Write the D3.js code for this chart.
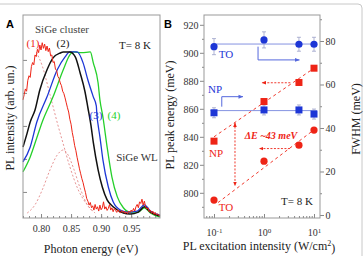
<!DOCTYPE html>
<html>
<head>
<meta charset="utf-8">
<script src="https://cdn.jsdelivr.net/npm/d3@7"></script>
<style>
  body { margin: 0; background: #fff; }
  text { font-family: "Liberation Serif", "Times New Roman", serif; }
</style>
</head>
<body>
<div id="chart"></div>
<script>
// Panel A spectra: [photon energy (eV), PL intensity (arb. un.)]
const spec1 = [
  [0.770, 3.79], [0.772, 3.95], [0.774, 4.12], [0.776, 4.05], [0.778, 4.38], [0.780, 4.52],
  [0.782, 4.47], [0.784, 4.80], [0.786, 4.92], [0.788, 4.85], [0.790, 5.15], [0.792, 5.10],
  [0.794, 5.32], [0.796, 5.22], [0.798, 5.45], [0.800, 5.30], [0.802, 5.52], [0.804, 5.35],
  [0.806, 5.48], [0.808, 5.28], [0.810, 5.42], [0.812, 5.25], [0.814, 5.36], [0.816, 5.12],
  [0.818, 5.15], [0.820, 4.92], [0.822, 4.95], [0.824, 4.72], [0.826, 4.68], [0.828, 4.50],
  [0.830, 4.44], [0.832, 4.30], [0.834, 4.22], [0.836, 4.05], [0.838, 3.98], [0.840, 3.85],
  [0.842, 3.70], [0.844, 3.55], [0.846, 3.42], [0.848, 3.20], [0.850, 3.05], [0.852, 2.80],
  [0.854, 2.62], [0.856, 2.40], [0.858, 2.25], [0.860, 2.05], [0.862, 1.88], [0.864, 1.70],
  [0.866, 1.55], [0.868, 1.40], [0.870, 1.28], [0.872, 1.12], [0.874, 0.98], [0.876, 0.80],
  [0.878, 0.72], [0.880, 0.60], [0.882, 0.68], [0.884, 0.52], [0.886, 0.58], [0.888, 0.45],
  [0.890, 0.62], [0.892, 0.48], [0.894, 0.55], [0.896, 0.42], [0.898, 0.60], [0.900, 0.46],
  [0.902, 0.52], [0.904, 0.70], [0.906, 0.48], [0.908, 0.55], [0.910, 0.44], [0.912, 0.50],
  [0.914, 0.62], [0.916, 0.45], [0.918, 0.52], [0.920, 0.40], [0.922, 0.50], [0.924, 0.44],
  [0.926, 0.38], [0.928, 0.46], [0.930, 0.40], [0.932, 0.36], [0.934, 0.44], [0.936, 0.38],
  [0.938, 0.42], [0.940, 0.35], [0.942, 0.40], [0.944, 0.34], [0.946, 0.42], [0.948, 0.38],
  [0.950, 0.45], [0.952, 0.40], [0.954, 0.50], [0.956, 0.42], [0.958, 0.55], [0.960, 0.62],
  [0.962, 0.52], [0.964, 0.70], [0.966, 0.65], [0.968, 0.78], [0.970, 0.60], [0.972, 0.72],
  [0.974, 0.55], [0.976, 0.48], [0.978, 0.52], [0.980, 0.40], [0.982, 0.45], [0.984, 0.35],
  [0.986, 0.42], [0.988, 0.32], [0.990, 0.38], [0.992, 0.30], [0.994, 0.34], [0.996, 0.28],
  [0.998, 0.30]
];
const spec2 = [
  [0.770, 2.36], [0.777, 2.79], [0.782, 3.12], [0.790, 3.48], [0.798, 4.09], [0.810, 4.70],
  [0.820, 5.06], [0.832, 5.21], [0.837, 5.24], [0.848, 5.24], [0.857, 5.09], [0.865, 4.61],
  [0.873, 4.05], [0.878, 3.55], [0.883, 3.03], [0.887, 2.50], [0.895, 1.67], [0.902, 1.15],
  [0.910, 0.76], [0.920, 0.55], [0.937, 0.36], [0.948, 0.33], [0.962, 0.39], [0.972, 0.55],
  [0.982, 0.39], [0.998, 0.27]
];
const spec3 = [
  [0.770, 1.91], [0.782, 2.36], [0.793, 3.12], [0.810, 3.88], [0.827, 4.70], [0.840, 5.09],
  [0.848, 5.24], [0.860, 5.24], [0.870, 4.91], [0.878, 4.39], [0.887, 3.88], [0.892, 3.61],
  [0.893, 3.33], [0.895, 3.03], [0.898, 2.67], [0.903, 1.97], [0.912, 1.15], [0.920, 0.70],
  [0.932, 0.45], [0.945, 0.39], [0.960, 0.42], [0.972, 0.61], [0.982, 0.42], [0.998, 0.30]
];
const spec4 = [
  [0.770, 1.61], [0.782, 2.06], [0.793, 2.64], [0.802, 3.12], [0.820, 3.88], [0.837, 4.70],
  [0.848, 5.15], [0.853, 5.24], [0.868, 5.22], [0.882, 5.24], [0.887, 4.91], [0.895, 4.30],
  [0.898, 3.79], [0.903, 3.27], [0.910, 2.36], [0.918, 1.45], [0.927, 0.85], [0.937, 0.52],
  [0.948, 0.39], [0.962, 0.39], [0.972, 0.52], [0.982, 0.36], [0.998, 0.24]
];
// Gaussian components (dotted)
const fit1 = [
  [0.792, 5.24], [0.802, 4.82], [0.815, 3.94], [0.828, 3.03], [0.835, 2.58], [0.848, 1.76],
  [0.862, 1.06], [0.877, 0.61], [0.890, 0.36]
];
const fit2 = [
  [0.777, 0.36], [0.790, 0.61], [0.802, 1.06], [0.815, 1.67], [0.827, 2.12], [0.837, 2.27],
  [0.845, 2.12], [0.855, 1.67], [0.865, 1.12], [0.877, 0.61], [0.887, 0.39]
];
const energyTicks = [0.80, 0.85, 0.90, 0.95];
const energyMinor = d3.range(0.77, 1.0, 0.01);
const intensityTicks = [1, 2, 3, 4, 5];

// Panel B: excitation intensity (W/cm2)
const power = [0.1, 1, 5, 10];
const npPeak = [836.9, 865.2, 878.8, 889.0];
const toPeak = [794.8, 822.6, 834.0, 844.8];
const npFwhm = [47.0, 48.3, 48.3, 46.4];
const toFwhm = [77.4, 80.5, 78.5, 78.5];
const npFwhmErr = [2.3, 2.3, 2.3, 2.3];
const toFwhmErr = [3.7, 3.7, 3.2, 3.2];
const npFwhmMean = 48.0;
const toFwhmMean = 78.6;
const npFit = [[0.1, 840], [10, 889]];
const toFit = [[0.12, 793], [10, 845]];
const peakTicks = [800, 820, 840, 860, 880, 900, 920];
const peakMinor = [790, 810, 830, 850, 870, 890, 910];
const fwhmTicks = [0, 20, 40, 60, 80];
const fwhmMinor = [10, 30, 50, 70, 90];
const powerTicks = [0.1, 1, 10];
const powerMinor = [0.07, 0.08, 0.09, 0.2, 0.3, 0.4, 0.5, 0.6, 0.7, 0.8, 0.9, 2, 3, 4, 5, 6, 7, 8, 9];

const red = "#ee2416", blue = "#1d36d6", green = "#25d02a";

const svg = d3.select("#chart").append("svg").attr("width", 364).attr("height", 256);

// figure border
svg.append("rect").attr("x", -6).attr("y", 4).attr("width", 368).attr("height", 260)
  .attr("rx", 4).attr("fill", "none").attr("stroke", "#c8c8c8");

const defs = svg.append("defs");
function marker(id, color) {
  defs.append("marker").attr("id", id).attr("viewBox", "0 0 10 10").attr("refX", 9).attr("refY", 5)
    .attr("markerWidth", 5).attr("markerHeight", 5).attr("orient", "auto-start-reverse")
    .append("path").attr("d", "M0,1L10,5L0,9z").attr("fill", color);
}
marker("arRed", red);
marker("arBlue", "#5568dd");

// ---------- Panel A ----------
const xA = d3.scaleLinear().domain([0.77, 0.998]).range([23, 160]);
const yA = d3.scaleLinear().domain([0.21, 6.36]).range([218, 15]);
const gA = svg.append("g");

gA.append("g").attr("transform", "translate(0,218)")
  .call(d3.axisBottom(xA).tickValues(energyMinor).tickSize(-2).tickFormat(""));
gA.append("g").attr("transform", "translate(0,218)")
  .call(d3.axisBottom(xA).tickValues(energyTicks).tickSize(-4).tickPadding(7).tickFormat(d3.format(".2f")));
gA.append("g").attr("transform", "translate(23,0)")
  .call(d3.axisLeft(yA).tickValues(intensityTicks).tickSize(-4).tickFormat(""));

const lineA = d3.line().x(d => xA(d[0])).y(d => yA(d[1]));
const lineAs = d3.line().x(d => xA(d[0])).y(d => yA(d[1])).curve(d3.curveMonotoneX);

gA.append("path").datum(fit1).attr("d", lineAs).attr("fill", "none")
  .attr("stroke", "#e07a7a").attr("stroke-width", 0.8).attr("stroke-dasharray", "2,2");
gA.append("path").datum(fit2).attr("d", lineAs).attr("fill", "none")
  .attr("stroke", "#e07a7a").attr("stroke-width", 0.8).attr("stroke-dasharray", "2,2");
gA.append("path").datum(spec4).attr("d", lineAs).attr("fill", "none").attr("stroke", green).attr("stroke-width", 1.3);
gA.append("path").datum(spec3).attr("d", lineAs).attr("fill", "none").attr("stroke", blue).attr("stroke-width", 1.3);
gA.append("path").datum(spec2).attr("d", lineAs).attr("fill", "none").attr("stroke", "#111").attr("stroke-width", 1.5);
gA.append("path").datum(spec1).attr("d", lineA).attr("fill", "none").attr("stroke", red).attr("stroke-width", 1);

gA.append("rect").attr("x", 23).attr("y", 15).attr("width", 137).attr("height", 203)
  .attr("fill", "none").attr("stroke", "#999");

gA.append("text").attr("x", 62).attr("y", 33).attr("text-anchor", "middle").attr("font-size", 11).attr("fill", "#444").text("SiGe cluster");
gA.append("text").attr("x", 135).attr("y", 49).attr("text-anchor", "middle").attr("font-size", 11).attr("fill", "#222").text("T= 8 K");
gA.append("text").attr("x", 137).attr("y", 161).attr("text-anchor", "middle").attr("font-size", 11).attr("fill", "#333").text("SiGe WL");
gA.append("text").attr("x", 33).attr("y", 47).attr("text-anchor", "middle").attr("font-size", 11).attr("fill", red).text("(1)");
gA.append("text").attr("x", 63).attr("y", 47).attr("text-anchor", "middle").attr("font-size", 11).attr("fill", "#111").text("(2)");
gA.append("text").attr("x", 96).attr("y", 119).attr("text-anchor", "middle").attr("font-size", 11).attr("fill", blue).text("(3)");
gA.append("text").attr("x", 114).attr("y", 119).attr("text-anchor", "middle").attr("font-size", 11).attr("fill", green).text("(4)");

gA.append("text").attr("x", 91).attr("y", 253).attr("text-anchor", "middle").attr("font-size", 12).attr("fill", "#222").text("Photon energy (eV)");
gA.append("text").attr("transform", "translate(14,118) rotate(-90)").attr("text-anchor", "middle")
  .attr("font-size", 12).attr("fill", "#222").text("PL intensity (arb. un.)");
svg.append("text").attr("x", 10).attr("y", 28).attr("text-anchor", "middle").attr("font-size", 11)
  .attr("font-weight", "bold").style("font-family", "Liberation Sans, Arial, sans-serif").text("A");

// ---------- Panel B ----------
const xB = d3.scaleLog().domain([Math.pow(10, -1.2), Math.pow(10, 1.12)]).range([204, 320]);
const yB = d3.scaleLinear().domain([782, 927]).range([218, 15]);
const yF = d3.scaleLinear().domain([-1.38, 91.95]).range([218, 15]);
const gB = svg.append("g");

gB.append("g").attr("transform", "translate(0,218)")
  .call(d3.axisBottom(xB).tickValues(powerMinor).tickSize(-2).tickFormat(""));
const axX = gB.append("g").attr("transform", "translate(0,218)")
  .call(d3.axisBottom(xB).tickValues(powerTicks).tickSize(-4).tickPadding(11).tickFormat(""));
axX.selectAll(".tick text").each(function (d) {
  const t = d3.select(this);
  t.append("tspan").text("10");
  t.append("tspan").attr("dy", "-0.5em").attr("font-size", 7).text(Math.round(Math.log10(d)));
});
gB.append("g").attr("transform", "translate(204,0)")
  .call(d3.axisLeft(yB).tickValues(peakMinor).tickSize(2).tickFormat(""));
gB.append("g").attr("transform", "translate(204,0)")
  .call(d3.axisLeft(yB).tickValues(peakTicks).tickSize(4).tickPadding(1.5));
gB.append("g").attr("transform", "translate(320,0)")
  .call(d3.axisRight(yF).tickValues(fwhmMinor).tickSize(2).tickFormat(""));
gB.append("g").attr("transform", "translate(320,0)")
  .call(d3.axisRight(yF).tickValues(fwhmTicks).tickSize(4).tickPadding(1.5));

svg.selectAll(".domain").remove();
svg.selectAll(".tick line").attr("stroke", "#888");
svg.selectAll(".tick text").attr("font-size", 10).attr("fill", "#333")
  .style("font-family", "Liberation Serif, serif");

gB.append("rect").attr("x", 204).attr("y", 15).attr("width", 116).attr("height", 203)
  .attr("fill", "none").attr("stroke", "#999");

// blue FWHM mean lines
gB.append("line").attr("x1", xB(0.1)).attr("x2", xB(10.5)).attr("y1", yF(toFwhmMean)).attr("y2", yF(toFwhmMean))
  .attr("stroke", "#8593e2").attr("stroke-width", 1);
gB.append("line").attr("x1", xB(0.085)).attr("x2", xB(11.5)).attr("y1", yF(npFwhmMean)).attr("y2", yF(npFwhmMean))
  .attr("stroke", "#8593e2").attr("stroke-width", 1);

// red fit lines
const lineB = d3.line().x(d => xB(d[0])).y(d => yB(d[1]));
gB.append("path").datum(npFit).attr("d", lineB).attr("stroke", red).attr("stroke-width", 0.9).attr("stroke-dasharray", "3,3").attr("fill", "none");
gB.append("path").datum(toFit).attr("d", lineB).attr("stroke", red).attr("stroke-width", 0.9).attr("stroke-dasharray", "3,3").attr("fill", "none");

// error bars
function errBars(vals, errs) {
  const g = gB.append("g").attr("stroke", "#9aa0c8").attr("stroke-width", 0.8);
  power.forEach((p, i) => {
    const x = xB(p), y0 = yF(vals[i] - errs[i]), y1 = yF(vals[i] + errs[i]);
    g.append("line").attr("x1", x).attr("x2", x).attr("y1", y0).attr("y2", y1);
    g.append("line").attr("x1", x - 2).attr("x2", x + 2).attr("y1", y0).attr("y2", y0);
    g.append("line").attr("x1", x - 2).attr("x2", x + 2).attr("y1", y1).attr("y2", y1);
  });
}
errBars(toFwhm, toFwhmErr);
errBars(npFwhm, npFwhmErr);

// markers
gB.selectAll(".toF").data(power).join("circle").attr("cx", d => xB(d)).attr("cy", (d, i) => yF(toFwhm[i]))
  .attr("r", 3.6).attr("fill", blue);
gB.selectAll(".npF").data(power).join("rect").attr("x", d => xB(d) - 3.5).attr("y", (d, i) => yF(npFwhm[i]) - 3.5)
  .attr("width", 7).attr("height", 7).attr("fill", blue);
gB.selectAll(".npP").data(power).join("rect").attr("x", d => xB(d) - 3.5).attr("y", (d, i) => yB(npPeak[i]) - 3.5)
  .attr("width", 7).attr("height", 7).attr("fill", red);
gB.selectAll(".toP").data(power).join("circle").attr("cx", d => xB(d)).attr("cy", (d, i) => yB(toPeak[i]))
  .attr("r", 3.6).attr("fill", red);

// arrows
const blueArrow = (pts) => gB.append("path").attr("d", d3.line()(pts)).attr("fill", "none")
  .attr("stroke", "#5568dd").attr("stroke-width", 1).attr("marker-end", "url(#arBlue)");
blueArrow([[xB(0.76), yF(77.4)], [xB(0.76), yF(71.3)], [xB(5.1), yF(71.3)]]);
blueArrow([[xB(0.143), yF(49.8)], [xB(0.143), yF(54.4)], [xB(0.38), yF(54.4)]]);
const redArrow = (pts, both) => gB.append("path").attr("d", d3.line()(pts)).attr("fill", "none")
  .attr("stroke", red).attr("stroke-width", 0.9).attr("stroke-dasharray", "2,1.5")
  .attr("marker-end", "url(#arRed)").attr("marker-start", both ? "url(#arRed)" : null);
redArrow([[xB(3.36), yB(878.6)], [xB(0.91), yB(878.6)]]);
redArrow([[xB(3.3), yB(831.6)], [xB(0.81), yB(831.6)]]);
redArrow([[xB(0.263), yB(849.9)], [xB(0.263), yB(805)]], true);

// labels
const lab = (x, y, s, c, opts = {}) => gB.append("text").attr("x", x).attr("y", y).attr("text-anchor", "middle")
  .attr("font-size", opts.size || 11).attr("fill", c).attr("font-style", opts.italic ? "italic" : null)
  .attr("font-weight", opts.bold ? "bold" : null).text(s);
lab(226, 58, "TO", blue);
lab(215, 93, "NP", blue);
lab(216, 157, "NP", red);
lab(226, 211, "TO", red);
lab(271, 139, "\u0394E ~43 meV", red, { italic: true, bold: true, size: 10 });
lab(297, 205, "T= 8 K", "#222");

svg.append("text").attr("transform", "translate(174,115) rotate(-90)").attr("text-anchor", "middle")
  .attr("font-size", 12).attr("fill", "#222").text("PL peak energy (meV)");
svg.append("text").attr("transform", "translate(360,119) rotate(-90)").attr("text-anchor", "middle")
  .attr("font-size", 12).attr("fill", "#222").text("FWHM (meV)");
const xl = svg.append("text").attr("x", 259).attr("y", 250).attr("text-anchor", "middle")
  .attr("font-size", 12).attr("fill", "#222");
xl.append("tspan").text("PL excitation intensity (W/cm");
xl.append("tspan").attr("dy", "-0.45em").attr("font-size", 8).text("2");
xl.append("tspan").attr("dy", "0.45em").text(")");
svg.append("text").attr("x", 168).attr("y", 28).attr("text-anchor", "middle").attr("font-size", 11)
  .attr("font-weight", "bold").style("font-family", "Liberation Sans, Arial, sans-serif").text("B");
</script>
</body>
</html>
